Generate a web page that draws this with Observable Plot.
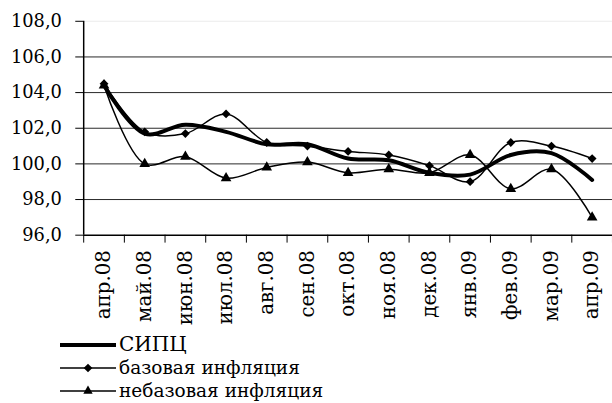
<!DOCTYPE html>
<html><head><meta charset="utf-8">
<script src="https://cdn.jsdelivr.net/npm/d3@7"></script>
<script src="https://cdn.jsdelivr.net/npm/@observablehq/plot@0.6"></script>
<style>
html,body{margin:0;padding:0;background:#fff;overflow:hidden;width:612px;height:403px;}
#chart{position:absolute;left:0;top:0;}
#legend{position:absolute;left:60px;top:333px;font-family:"DejaVu Serif",serif;color:#000;}
.row{display:flex;align-items:center;height:23px;white-space:nowrap;}
.row span{line-height:23px;}
.row svg{display:block;margin-right:3px;}
</style></head><body>
<div id="chart"></div>
<div id="legend"></div>
<script>
const months = ["апр.08","май.08","июн.08","июл.08","авг.08","сен.08","окт.08","ноя.08","дек.08","янв.09","фев.09","мар.09","апр.09"];
const sipc    = [104.4,101.7,102.2,101.8,101.1,101.1,100.3,100.2,99.5,99.4,100.5,100.6,99.1];
const base    = [104.5,101.8,101.7,102.8,101.2,101.0,100.7,100.5,99.9,99.0,101.2,101.0,100.3];
const nonbase = [104.4,100.0,100.4,99.2,99.8,100.1,99.5,99.7,99.5,100.5,98.6,99.7,97.0];
const yTicks = [96,98,100,102,104,106,108];
const gridValues = [98,100,102,104,106];
const seriesNames = ["СИПЦ","базовая инфляция","небазовая инфляция"];

const rows = months.map((m,i)=>({i, x:i+0.5, m, sipc:sipc[i], base:base[i], nonbase:nonbase[i]}));

const chart = Plot.plot({
  width:618, height:330, marginLeft:84, marginRight:0, marginTop:21, marginBottom:93,
  style:{fontFamily:"DejaVu Serif, serif", fontSize:"18px", color:"#000", background:"#fff", overflow:"visible"},
  x:{type:"linear", domain:[0, months.length], axis:null},
  y:{domain:[96,108], axis:null},
  marks:[
    Plot.ruleY([108], {stroke:"#ececec"}),
    Plot.ruleY(gridValues, {stroke:"#000", strokeOpacity:0.85, strokeWidth:1}),
    Plot.axisY({ticks:yTicks, tickSize:8, tickPadding:14, label:null, tickFormat:d=>d.toFixed(1).replace(".",","), fontSize:18}),
    Plot.axisX({ticks:d3.range(months.length+1), tickSize:8, label:null, tickFormat:()=>""}),
    Plot.axisX({ticks:rows.map(r=>r.x), tickSize:0, tickPadding:15, tickRotate:-90, label:null, tickFormat:x=>months[Math.floor(x)], fontSize:20}),
    Plot.ruleX([0], {y1:96, y2:108, stroke:"#000", strokeWidth:1.5}),
    Plot.ruleY([96], {stroke:"#000", strokeWidth:1.5}),
    Plot.line(rows, {x:"x", y:"sipc", curve:"catmull-rom", stroke:"#000", strokeWidth:4}),
    Plot.line(rows, {x:"x", y:"base", curve:"catmull-rom", stroke:"#000", strokeWidth:1.5}),
    Plot.line(rows, {x:"x", y:"nonbase", curve:"catmull-rom", stroke:"#000", strokeWidth:1.5}),
    Plot.dot(rows, {x:"x", y:"base", symbol:"diamond2", r:4, fill:"#000"}),
    Plot.dot(rows, {x:"x", y:"nonbase", symbol:"triangle", r:4, fill:"#000"})
  ]
});
document.getElementById("chart").appendChild(chart);

// legend
const legend = d3.select("#legend");
const specs = [
  {name:seriesNames[0], width:4, symbol:null, size:20},
  {name:seriesNames[1], width:1.5, symbol:d3.symbolSquare, rotate:45, size:18.5},
  {name:seriesNames[2], width:1.5, symbol:d3.symbolTriangle, rotate:0, size:18.5}
];
specs.forEach(s=>{
  const row = legend.append("div").attr("class","row");
  const svg = row.append("svg").attr("width",56).attr("height",23);
  svg.append("line").attr("x1",0).attr("x2",56).attr("y1",12).attr("y2",12).attr("stroke","#000").attr("stroke-width",s.width);
  if (s.symbol) {
    svg.append("path").attr("d", d3.symbol(s.symbol, Math.PI*12)()).attr("transform",`translate(28,12) rotate(${s.rotate})`).attr("fill","#000");
  }
  row.append("span").style("font-size", s.size+"px").text(s.name);
});
</script>
</body></html>
